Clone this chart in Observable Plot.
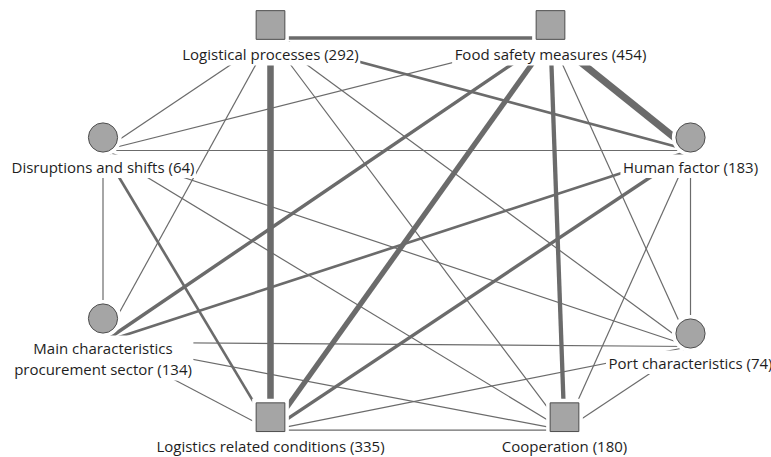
<!DOCTYPE html>
<html><head><meta charset="utf-8">
<script src="https://cdn.jsdelivr.net/npm/d3@7"></script>
<script src="https://cdn.jsdelivr.net/npm/@observablehq/plot@0.6"></script>
<style>body{margin:0;background:#fff}</style>
</head><body><div id="chart"></div>
<script>
// Nodes (code categories) with counts in labels
const nodeIds = ["LP", "FS", "DS", "HF", "MC", "PC", "LC", "CO"];
const nodeLabels = [
  "Logistical processes (292)",
  "Food safety measures (454)",
  "Disruptions and shifts (64)",
  "Human factor (183)",
  "Main characteristics\nprocurement sector (134)",
  "Port characteristics (74)",
  "Logistics related conditions (335)",
  "Cooperation (180)"
];
const nodeShapes = ["square", "square", "circle", "circle", "circle", "circle", "square", "square"];
// layout positions of the map (pixel-space coordinates of the original map)
const nodeX = [270, 550, 102.5, 690, 102.5, 690, 270, 564];
const nodeY = [24.5, 24.5, 137, 137, 318, 333, 416.7, 416.7];

// Links between codes and their estimated strength
const edgeSources = ["LP","LP","LP","LP","LP","LP","LP","FS","FS","FS","FS","FS","FS","DS","DS","DS","DS","DS","HF","HF","HF","HF","MC","MC","MC","PC","PC","LC"];
const edgeTargets = ["FS","DS","HF","MC","PC","LC","CO","DS","HF","MC","PC","LC","CO","HF","MC","PC","CO","LC","MC","PC","LC","CO","PC","LC","CO","LC","CO","CO"];
const edgeWeights = [3.3,1,2.5,1,1,6.5,1,1,7.3,3.3,1,5.2,4.2,1,1,1,1,2.5,2.5,1,3.2,1,1,1,1,1,1,1];

const FONT = 15, LH = 21.5;
const FAMILY = "'Open Sans', sans-serif";
const ctx = document.createElement("canvas").getContext("2d");
ctx.font = `${FONT}px 'Open Sans'`;

const nodes = nodeIds.map((id, i) => {
  const lines = nodeLabels[i].split("\n");
  const n = {id, label: nodeLabels[i], shape: nodeShapes[i], x: nodeX[i], y: nodeY[i]};
  n.w = d3.max(lines, l => ctx.measureText(l).width);
  n.base = n.y + 35 + (lines.length - 1) * LH;
  n.boxTop = n.y + 35 - 17.5;
  n.boxBottom = n.base + 6;
  n.ay = (n.y - 15 + n.boxBottom) / 2;
  return n;
});
const byId = new Map(nodes.map(n => [n.id, n]));
const edges = edgeSources.map((s, i) => ({s: byId.get(s), t: byId.get(edgeTargets[i]), weight: edgeWeights[i]}));
const wScale = d3.scaleLinear().domain([1, d3.max(edgeWeights)]).range([1.2, 7.3]);

const SQ = 16.2, CR = 14.6;
const squares = nodes.filter(n => n.shape === "square");
const circles = nodes.filter(n => n.shape === "circle");

const chart = Plot.plot({
  width: 771, height: 457,
  margin: 0,
  style: {background: "#fff", fontFamily: FAMILY, overflow: "visible"},
  x: {domain: [0, 771], range: [0, 771], axis: null},
  y: {domain: [0, 457], range: [0, 457], axis: null},
  marks: [
    Plot.link(edges, {
      x1: d => d.s.x, y1: d => d.s.ay, x2: d => d.t.x, y2: d => d.t.ay,
      stroke: "#6b6b6b", strokeWidth: d => wScale(d.weight)
    }),
    Plot.rect(nodes, {
      x1: d => d.x - d.w / 2 - 2, x2: d => d.x + d.w / 2 + 2,
      y1: "boxTop", y2: "boxBottom", fill: "white", inset: 0
    }),
    Plot.dot(squares, {x: "x", y: "y", symbol: "square", r: SQ, fill: "white", stroke: "white", strokeWidth: 8}),
    Plot.dot(circles, {x: "x", y: "y", symbol: "circle", r: CR, fill: "white", stroke: "white", strokeWidth: 8}),
    Plot.dot(squares, {x: "x", y: "y", symbol: "square", r: SQ, fill: "#a5a5a5", stroke: "#4d4d4d", strokeWidth: 1}),
    Plot.dot(circles, {x: "x", y: "y", symbol: "circle", r: CR, fill: "#a5a5a5", stroke: "#4d4d4d", strokeWidth: 1}),
    Plot.text(nodes, {
      x: "x", y: "base", text: "label", lineAnchor: "bottom", lineHeight: LH / FONT,
      fontSize: FONT, fill: "#1e1e1e", fontFamily: FAMILY
    })
  ]
});
document.getElementById("chart").appendChild(chart);
</script>
</body></html>
